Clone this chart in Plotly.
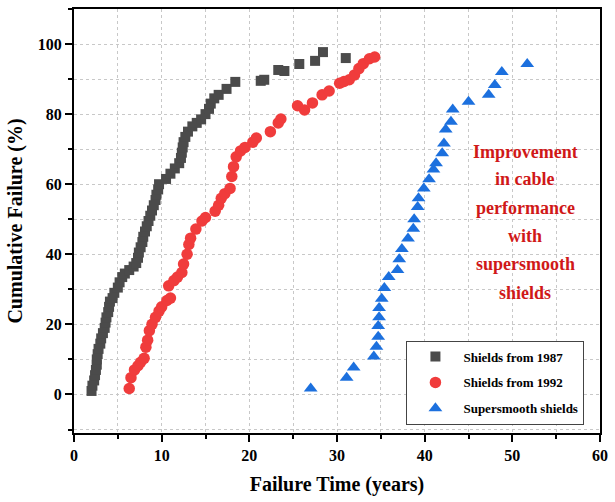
import plotly.graph_objects as go

# ---- data ----
x_1987 = [2.0, 2.1, 2.3, 2.4, 2.5, 2.6, 2.6, 2.7, 2.8, 3.0, 3.1, 3.3, 3.5, 3.6, 3.7, 3.9, 4.0, 4.1, 4.4, 4.6,
          5.0, 5.2, 5.5, 5.8, 6.3, 6.8, 7.1, 7.3, 7.4, 7.6, 7.8, 7.9, 8.1, 8.3, 8.5, 8.7, 8.9, 9.1, 9.3, 9.4,
          9.6, 9.7, 10.5, 11.0, 11.5, 12.0, 12.2, 12.3, 12.4, 12.5, 12.7, 13.0, 13.5, 14.0, 14.5, 15.0, 15.4,
          15.6, 16.0, 16.5, 17.4, 18.4, 21.3, 21.7, 23.3, 24.0, 25.7, 27.5, 28.4, 31.0]
y_1987 = [1.0, 2.5, 4.0, 5.5, 7.0, 8.5, 10.0, 11.5, 13.0, 14.5, 16.0, 17.5, 19.0, 20.5, 22.0, 23.5, 25.0, 26.5,
          27.5, 29.0, 30.5, 32.0, 33.5, 34.5, 35.5, 36.5, 37.5, 39.0, 40.5, 42.0, 43.5, 45.0, 46.5, 48.0, 49.5,
          51.0, 52.5, 54.0, 55.5, 57.0, 58.5, 60.0, 61.5, 63.0, 64.5, 66.0, 67.5, 69.0, 70.5, 72.0, 73.5, 75.0,
          76.5, 77.5, 78.5, 80.0, 81.5, 83.0, 84.5, 85.5, 87.2, 89.2, 89.5, 89.8, 92.6, 92.3, 94.3, 95.2, 97.7, 96.0]

x_1992 = [6.3, 6.5, 6.9, 7.3, 7.6, 8.0, 8.2, 8.4, 8.6, 8.9, 9.3, 9.7, 10.0, 10.6, 11.0, 10.8, 11.4, 11.8, 12.3,
          12.5, 12.9, 13.1, 13.3, 13.9, 14.6, 15.0, 16.1, 16.5, 16.8, 17.2, 17.8, 18.0, 18.2, 18.5, 19.0, 19.5,
          20.4, 20.8, 22.4, 23.3, 23.6, 25.5, 26.3, 27.2, 28.3, 29.1, 30.3, 30.8, 31.4, 32.0, 32.5, 33.0, 33.7, 34.3]
y_1992 = [1.7, 4.8, 7.0, 8.2, 9.2, 10.3, 13.5, 15.5, 18.2, 20.0, 22.0, 23.8, 25.0, 26.8, 27.5, 31.0, 32.5, 33.5,
          34.8, 37.2, 40.0, 42.8, 44.6, 47.2, 49.5, 50.5, 52.3, 54.0, 56.0, 57.3, 58.8, 62.2, 65.0, 67.8, 69.5,
          70.5, 72.0, 73.2, 75.0, 77.5, 78.6, 82.4, 81.2, 83.2, 85.5, 86.6, 88.8, 89.3, 89.8, 91.2, 93.0, 94.4,
          95.8, 96.3]

x_super = [27.0, 31.1, 31.9, 34.2, 34.5, 34.7, 34.7, 34.8, 34.8, 35.1, 35.4, 35.9, 36.9, 37.1, 37.4, 38.1, 38.7,
           38.8, 39.2, 39.3, 39.9, 40.5, 41.0, 41.3, 42.0, 42.2, 42.4, 43.0, 43.2, 45.0, 47.3, 48.0, 48.8, 51.7]
y_super = [1.7, 4.8, 7.7, 10.8, 13.6, 16.5, 19.5, 22.0, 24.7, 27.3, 30.4, 33.5, 35.5, 38.6, 41.5, 44.5, 47.3,
           50.0, 53.5, 56.0, 58.8, 61.4, 64.2, 66.0, 68.8, 71.6, 75.6, 77.8, 81.3, 83.5, 85.5, 88.3, 92.0, 94.3]

series_names = ["Shields from 1987", "Shields from 1992", "Supersmooth shields"]
note_lines = ["Improvement", "in cable", "performance", "with", "supersmooth", "shields"]
note_x = 51.5
note_y = [69.3, 61.4, 53.1, 45.2, 37.2, 29.0]

FONT = "Liberation Serif, Times New Roman, serif"

fig = go.Figure()
fig.add_trace(go.Scatter(x=x_1987, y=y_1987, mode="markers", name=series_names[0], legendgroup="a",
                         marker=dict(symbol="square", size=10, color="#4b4b4b")))
fig.add_trace(go.Scatter(x=x_1992, y=y_1992, mode="markers", name=series_names[1], legendgroup="b",
                         marker=dict(symbol="circle", size=11.5, color="#f03c3c")))
fig.add_trace(go.Scatter(x=x_super, y=y_super, mode="markers", name=series_names[2], legendgroup="c",
                         marker=dict(symbol="triangle-up", size=12, color="#1c70de")))

for t, yy in zip(note_lines, note_y):
    fig.add_annotation(x=note_x, y=yy, text="<b>%s</b>" % t, showarrow=False,
                       font=dict(family=FONT, size=18, color="#d01818"))

axis_common = dict(showline=True, linecolor="black", linewidth=2, mirror=True,
                   ticks="outside", tickcolor="black", tickwidth=2, ticklen=7,
                   showgrid=True, gridcolor="#c8c8c8", griddash="dot", gridwidth=1,
                   zeroline=False,
                   tickfont=dict(family=FONT, size=16, color="black", weight="bold"))

fig.update_xaxes(range=[0, 60], dtick=10, tick0=0,
                 minor=dict(dtick=5, ticks="outside", ticklen=4, tickcolor="black", tickwidth=1.5,
                            showgrid=True, gridcolor="#c8c8c8", griddash="dot"),
                 title=dict(text="<b>Failure Time (years)</b>", standoff=14,
                            font=dict(family=FONT, size=20, color="black")),
                 **axis_common)
fig.update_yaxes(range=[-11, 110], dtick=20, tick0=0,
                 minor=dict(dtick=10, ticks="outside", ticklen=4, tickcolor="black", tickwidth=1.5,
                            showgrid=True, gridcolor="#c8c8c8", griddash="dot"),
                 title=dict(text="<b>Cumulative Failure (%)</b>", standoff=10,
                            font=dict(family=FONT, size=20, color="black")),
                 **axis_common)

fig.update_layout(
    width=615, height=502,
    margin=dict(l=74, r=9, t=7, b=69),
    plot_bgcolor="white", paper_bgcolor="white",
    showlegend=True,
    legend=dict(x=0.632, y=0.218, xanchor="left", yanchor="top",
                bgcolor="white", bordercolor="#444", borderwidth=1,
                tracegroupgap=6, itemwidth=46,
                font=dict(family=FONT, size=13, color="black", weight="bold")),
)

fig.write_html("out.html")
